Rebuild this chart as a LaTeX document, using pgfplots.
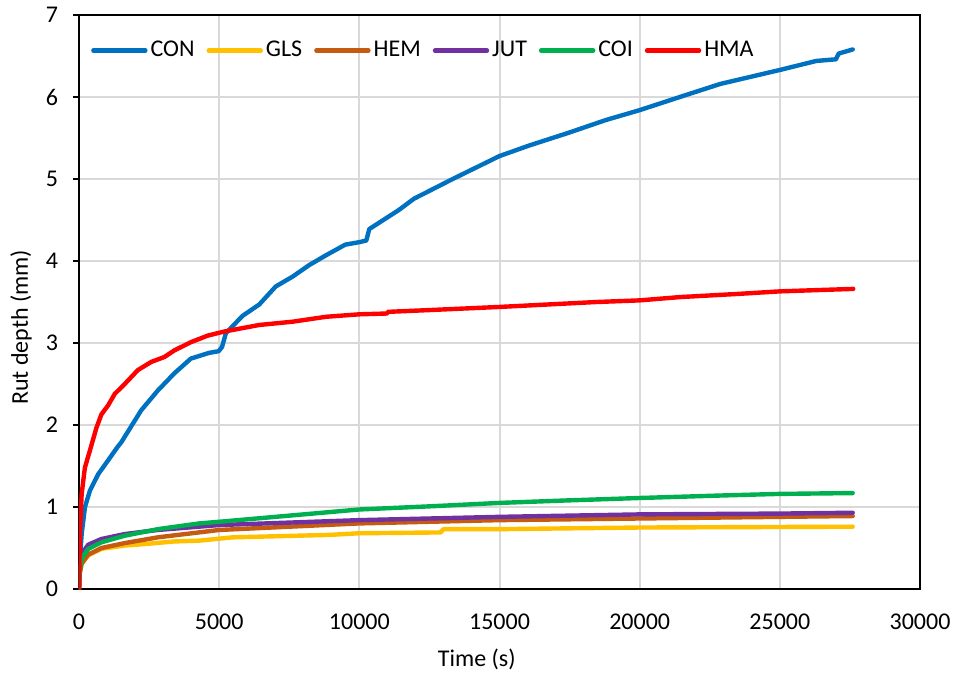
\documentclass[border=0pt]{standalone}
\usepackage{pgfplots}
\pgfplotsset{compat=1.18}
\usepackage{fontspec}
\setmainfont{Carlito}
\definecolor{cCON}{RGB}{0,112,192}
\definecolor{cGLS}{RGB}{255,192,0}
\definecolor{cHEM}{RGB}{197,90,17}
\definecolor{cJUT}{RGB}{112,48,160}
\definecolor{cCOI}{RGB}{0,176,80}
\definecolor{cHMA}{RGB}{255,0,0}
\definecolor{gridgray}{RGB}{217,217,217}
\begin{document}
\begin{tikzpicture}
\useasboundingbox (-39.5pt,-44pt) rectangle (439pt,294.5pt);
\begin{axis}[
  scale only axis, width=420.5pt, height=287pt,
  xmin=0, xmax=30000, ymin=0, ymax=7,
  xtick={0,5000,...,30000}, ytick={0,1,...,7},
  scaled x ticks=false,
  /pgf/number format/1000 sep={},
  /pgf/number format/assume math mode=true,
  grid=major,
  major grid style={color=gridgray, line width=1pt},
  axis line style={line width=1.3pt, black},
  xtick style={draw=none},
  ytick style={black, line width=1pt},
  ytick pos=left,
  tick align=outside, major tick length=3pt,
  tick label style={font=\fontsize{12}{14.4}\selectfont},
  yticklabel style={xshift=-4pt},
  xticklabel style={yshift=-6pt},
  xlabel={Time (s)}, ylabel={Rut depth (mm)},
  label style={font=\fontsize{12}{14.4}\selectfont},
  xlabel style={at={(axis description cs:0.473,-0.122)}, anchor=center},
  ylabel style={at={(axis description cs:-0.069,0.456)}, anchor=center},
  legend columns=6,
  legend style={draw=none, fill=none, inner sep=0pt,
    at={(rel axis cs:0.014,0.938)}, anchor=west,
    font=\fontsize{12}{14.4}\selectfont,
    nodes={inner sep=1.5pt},
    /tikz/every even column/.append style={column sep=4.5pt}},
  legend image code/.code={\draw[#1, line width=2.2pt] (0pt,0pt) -- (26pt,0pt);},
  every axis plot/.append style={line width=2.2pt, line join=round, line cap=round},
]
\addplot[cCON] coordinates {
(0,0) (30,0.35) (95,0.67) (213,1.0) (390,1.2) (685,1.4) (1040,1.57) (1370,1.73)
(1510,1.79) (2220,2.18) (2810,2.42) (3400,2.63) (3990,2.81) (4640,2.88) (4980,2.90)
(5100,2.95) (5240,3.12) (5830,3.33) (6430,3.47) (7020,3.69) (7620,3.81) (8210,3.95)
(8810,4.07) (9500,4.20) (10000,4.23) (10250,4.25) (10355,4.39) (11400,4.62)
(11950,4.76) (13330,5.0) (15000,5.28) (16070,5.41) (17430,5.56) (18800,5.72)
(20000,5.84) (21520,6.01) (22880,6.16) (25000,6.33) (26300,6.44) (27000,6.46)
(27100,6.53) (27600,6.58)
};
\addlegendentry{CON}
\addplot[cGLS] coordinates {
(0,0) (20,0.18) (95,0.31) (330,0.41) (800,0.49) (1630,0.53) (2400,0.55) (3400,0.58)
(4290,0.59) (5470,0.63) (8930,0.66) (10000,0.68) (12900,0.69) (13000,0.73)
(15000,0.73) (20000,0.75) (27600,0.76)
};
\addlegendentry{GLS}
\addplot[cHEM] coordinates {
(0,0) (20,0.18) (95,0.31) (330,0.42) (800,0.50) (1630,0.56) (2810,0.63) (5000,0.72)
(10000,0.80) (15000,0.84) (20000,0.86) (25000,0.88) (27600,0.89)
};
\addlegendentry{HEM}
\addplot[cJUT] coordinates {
(0,0) (20,0.25) (95,0.43) (330,0.54) (800,0.61) (1630,0.67) (2810,0.72) (5000,0.78)
(10000,0.84) (15000,0.88) (20000,0.91) (25000,0.92) (27600,0.93)
};
\addlegendentry{JUT}
\addplot[cCOI] coordinates {
(0,0) (20,0.2) (95,0.37) (330,0.49) (800,0.57) (1630,0.65) (2810,0.73) (4290,0.80)
(5000,0.82) (6670,0.87) (10000,0.97) (12620,1.01) (15000,1.05) (17380,1.08)
(20000,1.11) (22860,1.14) (25000,1.16) (27600,1.17)
};
\addlegendentry{COI}
\addplot[cHMA] coordinates {
(0,0) (35,0.71) (95,1.16) (210,1.48) (390,1.69) (625,1.97) (800,2.13) (1040,2.24)
(1275,2.38) (1630,2.50) (2100,2.67) (2580,2.77) (3050,2.83) (3400,2.91) (3990,3.01)
(4590,3.09) (5180,3.14) (6430,3.22) (7620,3.26) (8810,3.32) (10000,3.35) (11000,3.36)
(11010,3.38) (12380,3.40) (15000,3.44) (18450,3.50) (20000,3.52) (21430,3.56)
(23570,3.60) (25000,3.63) (27620,3.66)
};
\addlegendentry{HMA}
\end{axis}
\end{tikzpicture}
\end{document}
